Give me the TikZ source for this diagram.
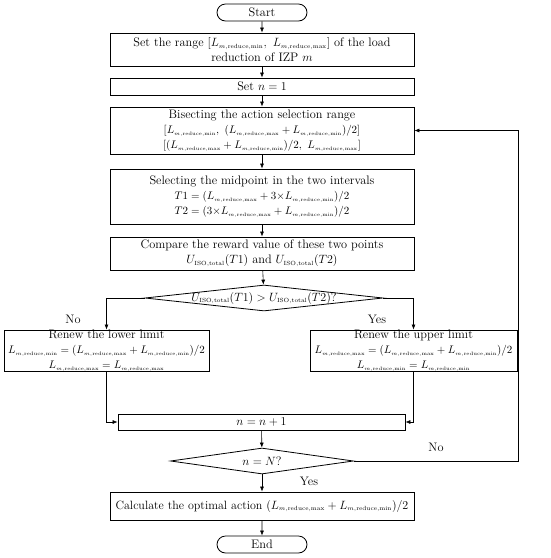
\documentclass[tikz,border=0pt]{standalone}
\usepackage{amsmath, amssymb}
\usepackage{tikz}
\usetikzlibrary{arrows.meta, shapes.geometric, shapes.misc, positioning}
\newcommand{\Lred}[1]{L_{\scriptscriptstyle m,\mathrm{reduce},\mathrm{#1}}}
\newcommand{\Uiso}{U_{\scriptscriptstyle\mathrm{ISO,total}}}
\newcommand{\formula}{\fontsize{11}{13.5}\selectfont}

\begin{document}
\begin{tikzpicture}[x=1pt, y=-1pt,
    procbox/.style={draw, rectangle, line width=0.8pt, minimum width=304, inner sep=0pt, align=center, font=\fontsize{12.3}{15}\selectfont},
    terminal/.style={draw, rounded rectangle, line width=0.8pt, minimum width=90, minimum height=17, inner sep=0pt, font=\fontsize{12.3}{15}\selectfont},
    decision/.style={draw, diamond, line width=0.8pt, inner sep=0pt},
    flow/.style={-{Latex[length=5pt,width=4pt]}, line width=0.6pt},
    lbl/.style={font=\fontsize{12.3}{15}\selectfont}]
    \useasboundingbox (0,0) rectangle (550,558);

    \node[terminal] (start) at (262,12.5) {Start};
    \node[procbox, minimum height=33] (range) at (262,49.5) {Set the range $[\Lred{min},\ \Lred{max}]$ of the load\\ reduction of IZP $m$};
    \node[procbox, minimum height=17] (setn) at (262,86.5) {Set $n = 1$};
    \node[procbox, minimum height=47] (bisect) at (262,130.5) {Bisecting the action selection range\\ {\formula $[\Lred{min},\ (\Lred{max} + \Lred{min})/2]$}\\ {\formula $[(\Lred{max} + \Lred{min})/2,\ \Lred{max}]$}};
    \node[procbox, minimum height=55] (midpt) at (262,196.5) {Selecting the midpoint in the two intervals\\ {\formula $T1 = (\Lred{max} + 3{\times}\Lred{min})/2$}\\ {\formula $T2 = (3{\times}\Lred{max} + \Lred{min})/2$}};
    \node[procbox, minimum height=33] (compare) at (262,253.5) {Compare the reward value of these two points\\ $\Uiso(T1)$ and $\Uiso(T2)$};
    \node[decision, minimum width=238, minimum height=26] (dec1) at (264,298) {};
    \node[lbl] (dec1txt) at (dec1.center) {$\Uiso(T1) > \Uiso(T2)$?};
    \node[procbox, minimum width=205, minimum height=37] (lower) at (106.5,350.5) {Renew the lower limit\\ {\formula $\Lred{min} = (\Lred{max} + \Lred{min})/2$}\\ {\formula $\Lred{max} = \Lred{max}$}};
    \node[procbox, minimum width=207, minimum height=37] (upper) at (413.5,350.5) {Renew the upper limit\\ {\formula $\Lred{max} = (\Lred{max} + \Lred{min})/2$}\\ {\formula $\Lred{min} = \Lred{min}$}};
    \node[procbox, minimum width=287, minimum height=16] (ninc) at (261.5,422) {$n = n + 1$};
    \node[decision, minimum width=183, minimum height=26] (dec2) at (262,461) {};
    \node[lbl] (dec2txt) at (dec2.center) {$n = N$?};
    \node[procbox, minimum height=28, font=\fontsize{12}{15}\selectfont] (calc) at (262,506) {Calculate the optimal action $(\Lred{max} + \Lred{min})/2$};
    \node[terminal] (stop) at (262,544.5) {End};

    \draw[flow] (start) -- (range);
    \draw[flow] (range) -- (setn);
    \draw[flow] (setn) -- (bisect);
    \draw[flow] (bisect) -- (midpt);
    \draw[flow] (midpt) -- (compare);
    \draw[flow] (compare) -- (dec1);
    \draw[flow] (dec1.west) -| (lower.north);
    \draw[flow] (dec1.east) -| (upper.north);
    \draw[flow] (lower.south) |- (ninc.west);
    \draw[flow] (upper.south) |- (ninc.east);
    \draw[flow] (ninc) -- (dec2);
    \draw[flow] (dec2) -- (calc);
    \draw[flow] (dec2.east) -- ++(164.5,0) |- (bisect.east);
    \draw[flow] (calc) -- (stop);

    \node[lbl] (nolft) at (73,319) {No};
    \node[lbl] (yesrgt) at (377,319) {Yes};
    \node[lbl] (noloop) at (436,447) {No};
    \node[lbl] (yesdown) at (309,481) {Yes};
\end{tikzpicture}
\end{document}
